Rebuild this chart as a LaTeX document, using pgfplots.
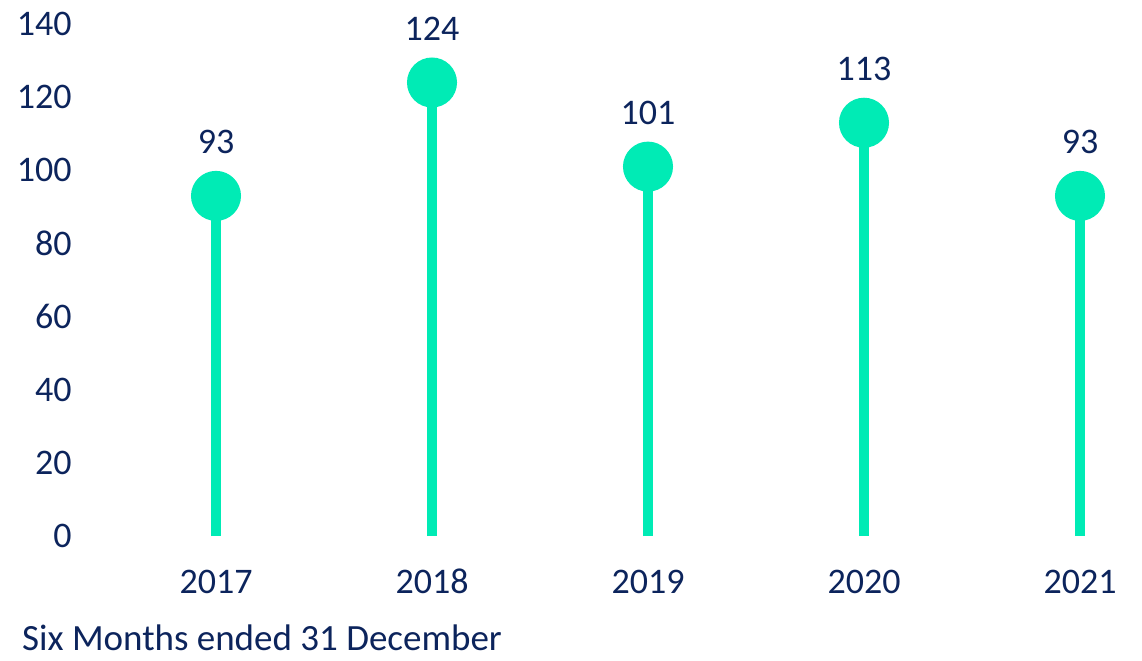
\documentclass[border=0pt]{standalone}
\usepackage{fontspec}
\setmainfont{Carlito}
\usepackage{pgfplots}
\pgfplotsset{compat=1.18}
\definecolor{navy}{RGB}{12,36,92}
\definecolor{mint}{RGB}{0,235,181}
\begin{document}
\fontsize{36}{42}\selectfont
\begin{tikzpicture}
\begin{axis}[
  scale only axis,
  width=1015.2pt, height=512pt,
  xmin=-0.45, xmax=4.25,
  ymin=0, ymax=140,
  axis line style={draw=none},
  major tick length=0pt,
  xtick={0,1,2,3,4},
  xticklabels={2017,2018,2019,2020,2021},
  ytick={0,20,40,60,80,100,120,140},
  /pgf/number format/assume math mode=true,
  ticklabel style={font=\fontsize{36}{42}\selectfont, text=navy},
  yticklabel style={anchor=east, inner sep=0pt, xshift=-47pt},
  xticklabel style={anchor=base, inner sep=0pt, yshift=-57pt},
  clip=false,
  nodes near coords,
  every node near coord/.append style={anchor=base, inner sep=0pt, yshift=42pt, text=navy, font=\fontsize{36}{42}\selectfont},
]
\path[draw=none] (rel axis cs:0,0) ++(-118.8pt,-124pt) rectangle ([xshift=8pt,yshift=24pt]rel axis cs:1,1);
\addplot[ycomb, draw=mint, line width=10pt, mark=*, mark size=20pt, mark options={fill=mint, draw=none}]
  coordinates {(0,93) (1,124) (2,101) (3,113) (4,93)};
\node[anchor=base west, inner sep=0pt, text=navy, font=\fontsize{37}{42}\selectfont] at ([xshift=-96.8pt,yshift=-114pt]rel axis cs:0,0) {Six Months ended 31 December};
\end{axis}
\end{tikzpicture}
\end{document}
